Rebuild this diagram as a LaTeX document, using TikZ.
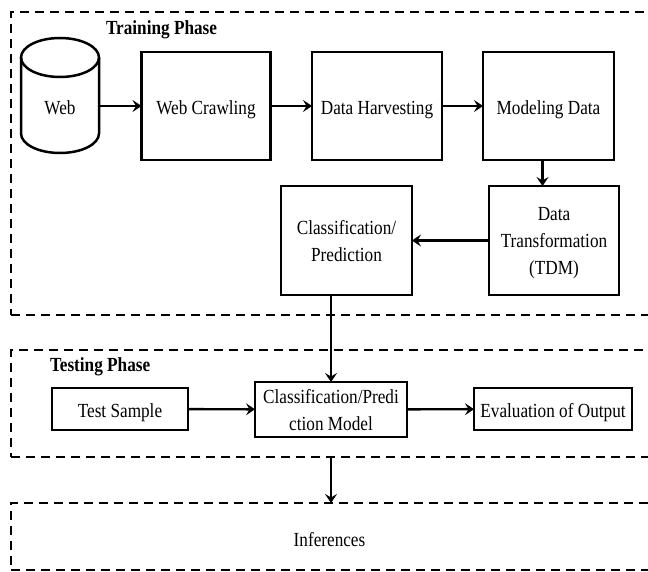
\documentclass[tikz,border=0pt]{standalone}
\usepackage{fontspec}
\setmainfont{Liberation Serif}[FakeStretch=0.86]
\usetikzlibrary{arrows.meta}
\begin{document}
\begin{tikzpicture}[x=1pt,y=-1pt,
  font=\fontsize{20}{27}\selectfont,
  every node/.style={outer sep=0pt, inner sep=0pt},
  stepbox/.style={draw, line width=2.5pt, align=center, text depth=0pt},
  oneline/.style={text height=17pt, text depth=0pt},
  phaseframe/.style={draw, dashed, dash pattern=on 9pt off 6pt, line width=2.6pt, anchor=north west},
  flow/.style={line width=2.4pt, -{Stealth[length=9pt,width=12pt,inset=3.5pt]}},
  phasetitle/.style={font=\fontsize{20}{24}\selectfont\bfseries, anchor=west}
]
\useasboundingbox (0,0) rectangle (648,572);
\clip (0,0) rectangle (648,572);

% phase frames (open to the right)
\node[phaseframe, minimum width=660pt, minimum height=303pt] (train) at (11,12) {};
\node[phaseframe, minimum width=660pt, minimum height=107pt] (test) at (11,350) {};
\node[phaseframe, minimum width=660pt, minimum height=67pt] (infer) at (11,503) {};

\node[phasetitle] (traintitle) at (106,30) {Training Phase};
\node[phasetitle] (testtitle) at (50,367) {Testing Phase};

% web data source drawn as a cylinder
\draw[line width=2.5pt] (21,57.5) -- (21,133.5)
  arc[start angle=180, end angle=360, x radius=39pt, y radius=19.5pt] -- (99,57.5);
\draw[line width=2.5pt] (60,57.5) ellipse[x radius=39pt, y radius=19.5pt];
\node[minimum width=78pt, minimum height=115pt] (web) at (60,95.5) {};
\node[oneline] (webtext) at (60,106) {Web};

% training steps
\node[stepbox, oneline, minimum width=129pt, minimum height=108pt] (crawl) at (206,106) {Web Crawling};
\node[stepbox, oneline, minimum width=130pt, minimum height=108pt] (harvest) at (377,106) {Data Harvesting};
\node[stepbox, oneline, minimum width=131pt, minimum height=108pt] (model) at (548.5,106) {Modeling Data};
\node[stepbox, minimum width=130pt, minimum height=109pt] (dt) at (554,240.5) {Data\\Transformation\\(TDM)};
\node[stepbox, minimum width=131pt, minimum height=109pt] (cp) at (346.5,240.5) {Classification/\\Prediction};

% testing steps
\node[stepbox, oneline, minimum width=136pt, minimum height=42pt] (ts) at (120,409) {Test Sample};
\node[stepbox, minimum width=152pt, minimum height=55pt] (cm) at (331,409.5) {Classification/Predi\\ction Model};
\node[stepbox, oneline, minimum width=158pt, minimum height=42pt] (eval) at (553,409) {Evaluation of Output};

\node[oneline] (inf) at (329.5,538) {Inferences};

% connectors
\draw[flow] (web.east |- crawl) -- (crawl.west);
\draw[flow] (crawl) -- (harvest);
\draw[flow] (harvest) -- (model);
\draw[flow] ([xshift=-6pt]model.south) -- ([xshift=-6pt]model.south |- dt.north);
\draw[flow] (dt) -- (cp);
\draw[flow] (cp.south -| cm.north) -- (cm.north);
\draw[flow] (ts) -- (cm);
\draw[flow] (cm) -- (eval);
\draw[flow] (test.south -| cm.north) -- (infer.north -| cm.north);
\end{tikzpicture}
\end{document}
